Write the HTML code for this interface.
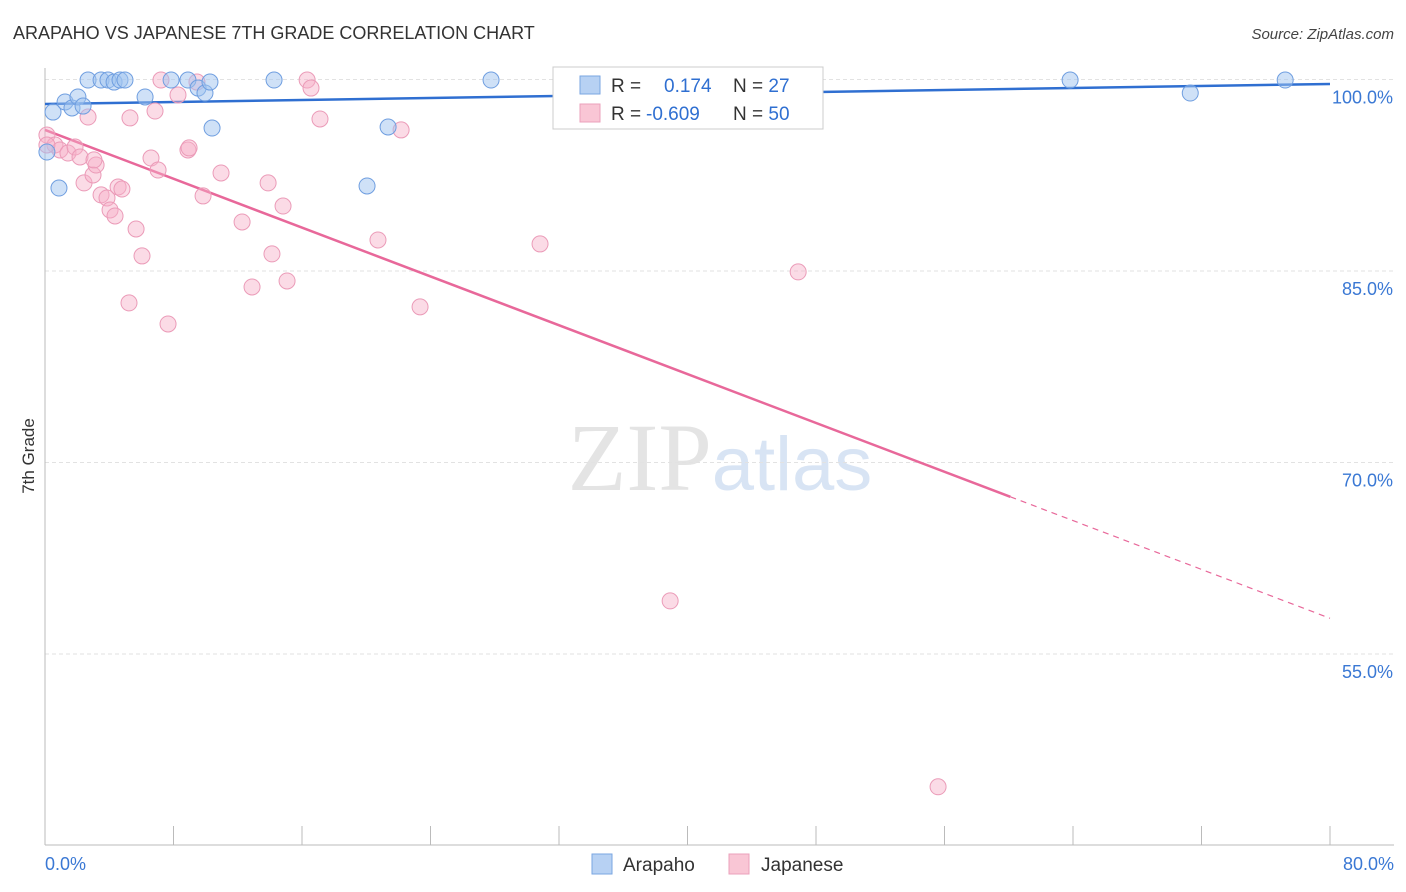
<!DOCTYPE html>
<html><head><meta charset="utf-8"><style>
body{margin:0;background:#fff;font-family:"Liberation Sans",sans-serif}
</style></head><body>
<svg id="chart" width="1406" height="892" xmlns="http://www.w3.org/2000/svg" style="display:block">
<text x="13" y="39" font-size="18" fill="#333">ARAPAHO VS JAPANESE 7TH GRADE CORRELATION CHART</text>
<text x="1394" y="39" font-size="15" fill="#444" text-anchor="end" font-style="italic">Source: ZipAtlas.com</text>
<text x="720" y="490" font-size="96" text-anchor="middle" fill="#e4e4e4" font-family="Liberation Serif,serif">ZIP<tspan fill="#d8e4f4" font-family="Liberation Sans,sans-serif" font-size="76">atlas</tspan></text>
<text transform="translate(34,456) rotate(-90)" font-size="17" fill="#333" text-anchor="middle">7th Grade</text>
<g id="grid"></g><g id="ticks"></g><g id="lines"></g><g id="pts"></g>
<g>
<rect x="553" y="67" width="270" height="62" fill="#fff" stroke="#ccc"/>
<rect x="580" y="76" width="20" height="18" fill="#b7d1f3" stroke="#7aa6e2"/>
<rect x="580" y="104" width="20" height="18" fill="#f9c6d5" stroke="#eba0bb"/>
<text x="611" y="92" font-size="19" fill="#333">R = <tspan fill="#2f6fd1" x="664">0.174</tspan><tspan x="733" fill="#333">N = </tspan><tspan fill="#2f6fd1">27</tspan></text>
<text x="611" y="120" font-size="19" fill="#333">R = <tspan fill="#2f6fd1" x="646">-0.609</tspan><tspan x="733" fill="#333">N = </tspan><tspan fill="#2f6fd1">50</tspan></text>
</g>
<g>
<rect x="592" y="854" width="20" height="20" fill="#b7d1f3" stroke="#7aa6e2"/>
<text x="623" y="871" font-size="19" fill="#333">Arapaho</text>
<rect x="729" y="854" width="20" height="20" fill="#f9c6d5" stroke="#eba0bb"/>
<text x="761" y="871" font-size="19" fill="#333">Japanese</text>
</g>
</svg>
<script>
const yTicks=[100,85,70,55];
const xTickCount=10;
const blueX=[0.12,0.87,0.5,1.25,1.68,2.05,2.37,2.68,3.49,3.92,4.3,4.67,4.98,6.23,7.85,8.9,9.53,9.96,10.27,10.4,14.26,20.05,21.36,27.77,63.82,71.3,77.21];
const blueY=[94.32,91.5,97.45,98.24,97.77,98.63,97.92,99.96,99.96,99.96,99.8,99.96,99.96,98.63,99.96,99.96,99.33,98.94,99.8,96.2,99.96,91.66,96.28,99.96,99.96,98.94,99.96];
const pinkX=[0.12,0.62,0.93,1.43,1.87,2.18,2.43,2.68,2.99,3.18,3.49,3.86,4.05,4.36,4.55,4.79,5.29,5.23,5.67,6.04,6.6,6.85,7.04,7.22,7.66,8.28,8.9,8.97,9.46,9.84,10.96,12.27,12.89,13.89,14.13,14.82,15.07,16.32,16.56,17.12,20.73,22.17,23.35,30.82,36.99,38.92,46.89,55.6,0.12,3.05];
const pinkY=[95.65,94.87,94.48,94.24,94.71,93.93,91.9,97.06,92.52,93.3,90.96,90.72,89.78,89.31,91.58,91.42,96.99,82.5,88.29,86.18,93.85,97.53,92.91,99.96,80.85,98.79,94.48,94.64,99.8,90.88,92.68,88.84,83.75,91.9,86.34,90.09,84.22,99.96,99.33,96.91,87.43,96.05,82.19,87.12,99.96,59.16,84.93,44.6,94.87,93.7];
const blueTrend=[98.08,99.65];
const pinkTrend=[96.05,57.8];
const pinkSolidEnd=60.1;
const NS="http://www.w3.org/2000/svg";
const X=v=>45+v*(1285/80), Y=v=>79.5+(100-v)*(191.5/15);
function mk(p,t,a){const e=document.createElementNS(NS,t);for(const k in a)e.setAttribute(k,a[k]);document.getElementById(p).appendChild(e);return e;}
yTicks.forEach(t=>{
 const l=mk('grid','line',{x1:45,x2:1394,y1:Y(t),y2:Y(t),stroke:'#e2e2e2','stroke-dasharray':'4,3'});
 
 
 const tx=mk('grid','text',{x:1393,y:Y(t)+24,'font-size':18,fill:'#3a78d4','text-anchor':'end'});
 tx.textContent=t.toFixed(1)+'%';
 
 
});
mk('ticks','line',{x1:45,x2:1394,y1:845,y2:845,stroke:'#bbb'});
mk('ticks','line',{x1:45,x2:45,y1:68,y2:845,stroke:'#bbb'});
for(let i=0;i<=xTickCount;i++){const t=mk('ticks','line',{x1:X(i*8),x2:X(i*8),y1:826,y2:845,stroke:'#bbb'});
 
 }
[['0.0%',45,'start'],['80.0%',1394,'end']].forEach(a=>{const t=mk('ticks','text',{x:a[1],y:870,'font-size':18,fill:'#3a78d4','text-anchor':a[2]});t.textContent=a[0];
 
 });
const bl=mk('lines','line',{x1:X(0),y1:Y(blueTrend[0]),x2:X(80),y2:Y(blueTrend[1]),stroke:'#2f6fd1','stroke-width':2.5});


const py=x=>pinkTrend[0]+(pinkTrend[1]-pinkTrend[0])*x/80;
const pl=mk('lines','line',{x1:X(0),y1:Y(py(0)),x2:X(pinkSolidEnd),y2:Y(py(pinkSolidEnd)),stroke:'#e8689a','stroke-width':2.5});


const pd=mk('lines','line',{x1:X(pinkSolidEnd),y1:Y(py(pinkSolidEnd)),x2:X(80),y2:Y(py(80)),stroke:'#e8689a','stroke-width':1.2,'stroke-dasharray':'6,5'});


pinkX.forEach((x,i)=>{const c=mk('pts','circle',{cx:X(x),cy:Y(pinkY[i]),r:8,fill:'rgba(246,176,200,0.45)',stroke:'#eb9bb8','stroke-width':1});
 
 });
blueX.forEach((x,i)=>{const c=mk('pts','circle',{cx:X(x),cy:Y(blueY[i]),r:8,fill:'rgba(160,196,240,0.5)',stroke:'#6f9ee0','stroke-width':1});
 
 });
</script>
</body></html>
